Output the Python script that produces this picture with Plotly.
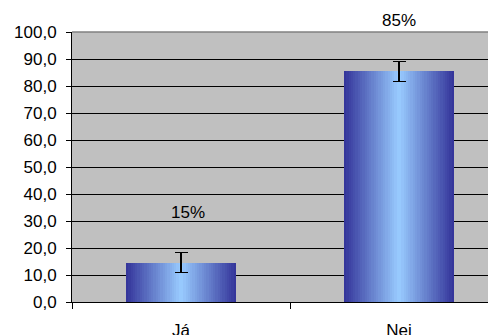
import plotly.graph_objects as go

categories = ["Já", "Nei"]
values = [14.6, 85.4]
errors = [3.7, 3.7]
labels = ["15%", "85%"]
label_y = [33.3, 104.4]

dark = (51, 51, 153)
light = (153, 204, 255)
bar_w = 0.505
steps = 24

fig = go.Figure()
# fake a horizontal centre gradient by stacking narrower, lighter bars
for i in range(steps):
    t = (i + 0.5) / steps
    c = tuple(round(d + (l - d) * t) for d, l in zip(dark, light))
    last = i == steps - 1
    fig.add_trace(go.Bar(
        x=categories, y=values,
        width=bar_w * (1 - i / steps),
        marker=dict(color="rgb(%d,%d,%d)" % c, line=dict(width=0)),
        error_y=dict(type="data", array=errors, color="black",
                     thickness=1.6, width=6.5, visible=last),
        showlegend=False, hoverinfo="x+y" if last else "skip",
    ))

# labels above 100 would be hidden, so clamp to the top and shift in pixels
for cat, lab, ly, xs in zip(categories, labels, label_y, [7, 0]):
    fig.add_annotation(x=cat, y=min(ly, 100), yshift=max(ly - 100, 0) * 2.7,
                       text=lab, showarrow=False, xshift=xs,
                       font=dict(size=17, color="black"))

# grey border along the top of the plot area
fig.add_shape(type="line", xref="paper", yref="paper", x0=0, x1=1, y0=1, y1=1,
              line=dict(color="#808080", width=1.5))

# the page body is offset by 8px; the plot runs past the right edge like the original
fig.update_layout(
    width=500, height=335,
    margin=dict(l=64, r=0, t=24, b=41),
    barmode="overlay", bargap=0,
    plot_bgcolor="#C0C0C0", paper_bgcolor="white",
    separators=",.",
    font=dict(family="Liberation Sans, Arial, sans-serif", size=17, color="black"),
)
fig.update_xaxes(
    range=[-0.5, 1.5], showline=True, linecolor="black", linewidth=1,
    ticks="outside", tickson="boundaries", ticklen=6, tickcolor="black",
    ticklabelstandoff=13, showgrid=False, automargin=False,
)
fig.update_yaxes(
    range=[0, 100], tickvals=list(range(0, 101, 10)), tickformat=".1f",
    showline=True, linecolor="black", linewidth=1,
    ticks="outside", ticklen=5, tickcolor="black", ticklabelstandoff=6,
    showgrid=True, gridcolor="black", gridwidth=1, zeroline=False,
    automargin=False,
)

fig.write_html("out.html")
